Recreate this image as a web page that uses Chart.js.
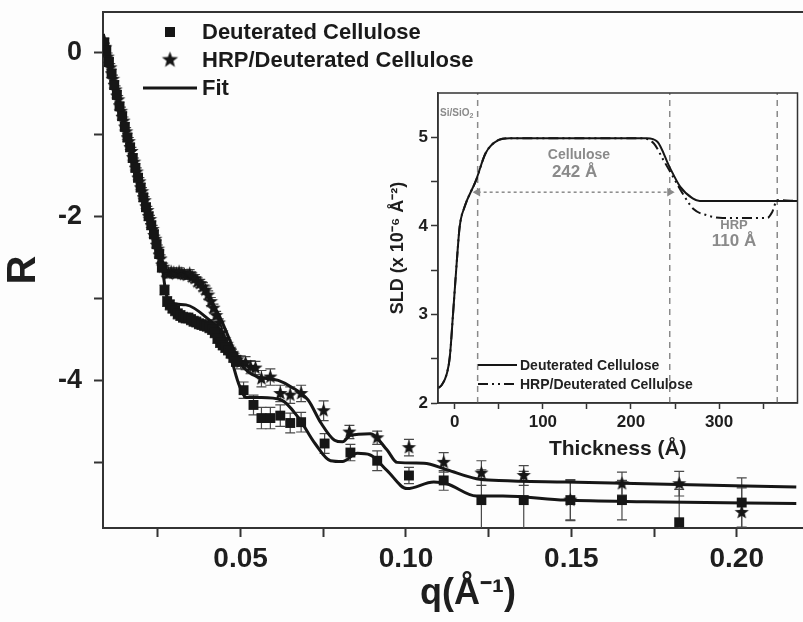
<!DOCTYPE html>
<html>
<head>
<meta charset="utf-8">
<script src="https://cdn.jsdelivr.net/npm/chart.js@4.4.1/dist/chart.umd.min.js"></script>
<style>
  html, body { margin: 0; padding: 0; background: #fdfdfd; overflow: hidden; width: 803px; height: 622px; }
  #main { position: absolute; left: 0; top: 0; }
  #inset { position: absolute; left: 380px; top: 85px; }
</style>
</head>
<body>
<canvas id="main" width="840" height="622"></canvas>
<canvas id="inset" width="423" height="385"></canvas>
<script>
// ---- reflectivity data ----
var dQ = [0.0088,0.0094,0.0102,0.0110,0.0118,0.0126,0.0134,0.0142,0.0150,0.0158,0.0166,0.0174,0.0182,0.0190,0.0198,0.0206,0.0214,0.0222,0.0230,0.0238,0.0246,0.0254,0.0262,0.0270,0.0278,0.0286,0.0294,0.0302,0.0310,0.0318,0.0326,0.0334,0.0342,0.0350,0.0358,0.0366,0.0374,0.0382,0.0390,0.0398,0.0406,0.0414,0.0422,0.0430,0.0438,0.0446,0.0454,0.0462,0.0470,0.0478,0.0486,
  0.0509,0.0539,0.0563,0.0590,0.0620,0.0650,0.0683,0.0754,0.0832,0.0913,0.1009,0.1114,0.1228,0.1356,0.1497,0.1653,0.1826,0.2015];
var dR = [0.12,0.02,-0.12,-0.26,-0.40,-0.52,-0.66,-0.78,-0.91,-1.04,-1.16,-1.29,-1.41,-1.53,-1.65,-1.77,-1.89,-2.00,-2.11,-2.22,-2.34,-2.46,-2.62,-2.90,-3.04,-3.08,-3.12,-3.15,-3.19,-3.21,-3.23,-3.24,-3.24,-3.26,-3.28,-3.29,-3.31,-3.32,-3.33,-3.34,-3.36,-3.38,-3.42,-3.49,-3.54,-3.57,-3.60,-3.63,-3.67,-3.72,-3.77,
  -4.12,-4.30,-4.46,-4.46,-4.43,-4.52,-4.51,-4.77,-4.88,-4.98,-5.16,-5.22,-5.46,-5.46,-5.46,-5.46,-5.73,-5.49];
var dErr = [0.05,0.05,0.05,0.05,0.05,0.05,0.05,0.05,0.05,0.05,0.05,0.05,0.05,0.05,0.05,0.05,0.05,0.05,0.05,0.05,0.05,0.05,0.06,0.06,0.06,0.06,0.06,0.06,0.06,0.06,0.06,0.06,0.06,0.06,0.06,0.06,0.06,0.06,0.06,0.06,0.06,0.06,0.06,0.06,0.06,0.06,0.06,0.06,0.06,0.06,0.06,
  0.10,0.12,0.13,0.13,0.13,0.12,0.12,0.12,0.10,0.12,0.10,0.12,0.37,0.35,0.25,0.24,0.40,0.30];

var hQ = [0.0090,0.0098,0.0106,0.0114,0.0122,0.0130,0.0138,0.0146,0.0154,0.0162,0.0170,0.0178,0.0186,0.0194,0.0202,0.0210,0.0218,0.0226,0.0234,0.0242,0.0250,0.0258,0.0266,0.0274,0.0282,0.0290,0.0298,0.0306,0.0314,0.0322,0.0330,0.0338,0.0346,0.0354,0.0362,0.0370,0.0378,0.0386,0.0394,0.0402,0.0410,0.0418,0.0426,0.0434,0.0442,0.0450,0.0458,0.0466,0.0474,0.0482,0.0490,
  0.0500,0.0515,0.0530,0.0545,0.0563,0.0590,0.0620,0.0650,0.0683,0.0751,0.0829,0.0913,0.1009,0.1114,0.1228,0.1356,0.1497,0.1653,0.1826,0.2015];
var hR = [0.06,-0.06,-0.19,-0.33,-0.46,-0.58,-0.72,-0.84,-0.97,-1.09,-1.21,-1.34,-1.46,-1.58,-1.70,-1.81,-1.93,-2.04,-2.16,-2.28,-2.40,-2.52,-2.62,-2.68,-2.70,-2.68,-2.69,-2.70,-2.68,-2.70,-2.71,-2.72,-2.70,-2.74,-2.76,-2.80,-2.82,-2.86,-2.90,-2.96,-3.04,-3.12,-3.21,-3.30,-3.42,-3.50,-3.56,-3.62,-3.67,-3.72,-3.75,
  -3.78,-3.79,-3.84,-3.85,-3.98,-3.96,-4.16,-4.18,-4.16,-4.37,-4.63,-4.70,-4.82,-5.00,-5.13,-5.16,-5.46,-5.26,-5.26,-5.61];
var hErr = [0.05,0.05,0.05,0.05,0.05,0.05,0.05,0.05,0.05,0.05,0.05,0.05,0.05,0.05,0.05,0.05,0.05,0.05,0.05,0.05,0.05,0.05,0.05,0.05,0.05,0.05,0.05,0.05,0.05,0.05,0.05,0.05,0.05,0.05,0.05,0.05,0.05,0.05,0.05,0.05,0.05,0.05,0.05,0.05,0.05,0.05,0.05,0.05,0.05,0.05,0.05,
  0.08,0.08,0.08,0.08,0.10,0.10,0.10,0.10,0.10,0.12,0.08,0.08,0.10,0.12,0.15,0.12,0.24,0.14,0.15,0.30];

var fitDQ = [0.0085,0.0096,0.0126,0.0156,0.0189,0.0222,0.0257,0.0263,0.0275,0.0293,0.0335,0.0395,0.0455,0.0494,0.0518,0.0563,0.0623,0.0674,0.0725,0.0772,0.0808,0.0853,0.0892,0.0943,0.1003,0.1084,0.1123,0.1213,0.1293,0.1482,0.1722,0.2180];
var fitDR = [0.22,0.00,-0.50,-1.00,-1.50,-2.00,-2.50,-2.62,-2.95,-3.06,-3.08,-3.23,-3.51,-4.04,-4.21,-4.21,-4.24,-4.45,-4.77,-4.98,-4.99,-4.89,-4.91,-5.10,-5.32,-5.24,-5.26,-5.41,-5.41,-5.46,-5.48,-5.50];
var fitHQ = [0.0085,0.0096,0.0126,0.0156,0.0189,0.0222,0.0257,0.0270,0.0300,0.0344,0.0374,0.0398,0.0434,0.0455,0.0494,0.0524,0.0554,0.0614,0.0653,0.0704,0.0743,0.0784,0.0808,0.0832,0.0892,0.0943,0.0973,0.1054,0.1123,0.1213,0.1281,0.1482,0.1722,0.2180];
var fitHR = [0.22,0.00,-0.50,-1.00,-1.50,-2.00,-2.50,-2.62,-2.73,-2.72,-2.80,-2.96,-3.20,-3.39,-3.76,-3.90,-3.96,-4.00,-4.08,-4.24,-4.52,-4.73,-4.75,-4.67,-4.65,-4.85,-5.00,-5.01,-5.09,-5.20,-5.22,-5.24,-5.26,-5.30];

var xTickVals = [0.025,0.05,0.075,0.10,0.125,0.15,0.175,0.20,0.225];
var xTickLabels = ['','0.05','','0.10','','0.15','','0.20',''];
var yTickVals = [-5,-4,-3,-2,-1,0];
var yTickLabels = ['','-4','','-2','','0'];

// ---- SLD profile (inset) ----
var thickD = [-19,-15,-9,-5.6,-1.9,1.9,5.6,11,24,35,50,62,218,230,244,256,270,278,389];
var sldD = [2.17,2.20,2.33,2.52,3.01,3.54,3.99,4.21,4.51,4.82,4.97,4.99,4.99,4.95,4.66,4.44,4.31,4.28,4.28];
var thickH = [-19,-15,-9,-5.6,-1.9,1.9,5.6,11,24,35,50,62,212,226,237,248,259,271,286,304,355,360,366,389];
var sldH = [2.17,2.20,2.33,2.52,3.01,3.54,3.99,4.21,4.51,4.82,4.97,4.99,4.99,4.93,4.74,4.55,4.36,4.19,4.12,4.09,4.09,4.15,4.29,4.28];
var layerEdges = [26, 244, 366];
var insetXTicks = [0,50,100,150,200,250,300,350];
var insetXLabels = ['0','','100','','200','','300',''];
var insetYTicks = [2,2.5,3,3.5,4,4.5,5];
var insetYLabels = ['2','','3','','4','','5'];

var FONT = '"Liberation Sans", Arial, sans-serif';
var INK = '#161616';
var AXIS = '#333';

function pts(xs, ys) {
  var out = [];
  for (var i = 0; i < Math.min(xs.length, ys.length); i++) out.push({x: xs[i], y: ys[i]});
  return out;
}

function makeStar(r) {
  var c = document.createElement('canvas');
  var s = Math.ceil(r * 2 + 2);
  c.width = s; c.height = s;
  var g = c.getContext('2d');
  g.fillStyle = INK;
  g.beginPath();
  for (var i = 0; i < 10; i++) {
    var a = -Math.PI / 2 + i * Math.PI / 5;
    var rr = i % 2 === 0 ? r : r * 0.42;
    g.lineTo(s / 2 + rr * Math.cos(a), s / 2 + rr * Math.sin(a));
  }
  g.closePath();
  g.fill();
  return c;
}
var star = makeStar(7.5);
var starBig = makeStar(8.5);

// no extra room for edge labels, the chart area is placed by hand
function noPad(s) { s.paddingTop = 0; s.paddingBottom = 0; s.paddingLeft = 0; s.paddingRight = 0; }

// error bars drawn through the chart's scales
var errorBars = {
  id: 'errorBars',
  beforeDatasetsDraw: function(chart) {
    var ctx = chart.ctx, x = chart.scales.x, y = chart.scales.y, a = chart.chartArea;
    ctx.save();
    ctx.beginPath(); ctx.rect(a.left, a.top, a.right - a.left, a.bottom - a.top); ctx.clip();
    ctx.strokeStyle = '#4a4a4a';
    ctx.lineWidth = 1.2;
    chart.data.datasets.forEach(function(ds) {
      if (!ds.errors) return;
      ds.data.forEach(function(p, i) {
        var e = ds.errors[i];
        if (!e) return;
        var px = x.getPixelForValue(p.x);
        var y1 = y.getPixelForValue(p.y - e), y2 = y.getPixelForValue(p.y + e);
        ctx.beginPath();
        ctx.moveTo(px, y1); ctx.lineTo(px, y2);
        ctx.moveTo(px - 5, y1); ctx.lineTo(px + 5, y1);
        ctx.moveTo(px - 5, y2); ctx.lineTo(px + 5, y2);
        ctx.stroke();
      });
    });
    ctx.restore();
  }
};

var mainDeco = {
  id: 'mainDeco',
  afterDraw: function(chart) {
    var ctx = chart.ctx, a = chart.chartArea;
    ctx.save();
    // top frame line
    ctx.strokeStyle = AXIS; ctx.lineWidth = 2;
    ctx.beginPath(); ctx.moveTo(a.left, a.top); ctx.lineTo(a.right, a.top); ctx.stroke();
    // legend
    var lx = a.left + 67, ty = a.top + 20;
    ctx.fillStyle = INK;
    ctx.fillRect(lx - 5, ty - 5, 10, 10);
    ctx.drawImage(starBig, lx - starBig.width / 2, ty + 28 - starBig.height / 2);
    ctx.strokeStyle = INK; ctx.lineWidth = 3;
    ctx.beginPath(); ctx.moveTo(a.left + 40, ty + 56); ctx.lineTo(a.left + 94, ty + 56); ctx.stroke();
    ctx.font = 'bold 22px ' + FONT;
    ctx.textBaseline = 'middle';
    ctx.fillStyle = '#1a1a1a';
    ctx.fillText('Deuterated Cellulose', a.left + 99, ty + 1);
    ctx.fillText('HRP/Deuterated Cellulose', a.left + 99, ty + 29);
    ctx.fillText('Fit', a.left + 99, ty + 57);
    ctx.restore();
  }
};

new Chart(document.getElementById('main'), {
  type: 'scatter',
  data: {
    datasets: [
      { label: 'Deuterated Cellulose', data: pts(dQ, dR), errors: dErr, pointStyle: 'rect', pointRadius: 7, backgroundColor: INK, borderColor: INK, borderWidth: 0 },
      { label: 'HRP/Deuterated Cellulose', data: pts(hQ, hR), errors: hErr, pointStyle: star, backgroundColor: INK, borderColor: INK },
      { label: 'Fit', data: pts(fitDQ, fitDR), showLine: true, pointRadius: 0, borderColor: INK, borderWidth: 3, cubicInterpolationMode: 'monotone' },
      { label: 'Fit HRP', data: pts(fitHQ, fitHR), showLine: true, pointRadius: 0, borderColor: INK, borderWidth: 3, cubicInterpolationMode: 'monotone' }
    ]
  },
  options: {
    responsive: false,
    animation: false,
    layout: { padding: { left: 0, right: 0, top: 12, bottom: 0 } },
    plugins: { legend: { display: false }, tooltip: { enabled: false } },
    scales: {
      x: {
        type: 'linear', min: 0.0084, max: 0.2291,
        afterBuildTicks: function(s) { s.ticks = xTickVals.map(function(v) { return {value: v}; }); },
        afterFit: function(s) { s.height = 94; noPad(s); },
        ticks: { callback: function(v, i) { return xTickLabels[i]; }, autoSkip: false, maxRotation: 0, padding: 5, color: '#1e1e1e', font: { family: FONT, size: 28, weight: 'bold' } },
        grid: { drawOnChartArea: false, tickLength: 9, tickWidth: 2, tickColor: AXIS },
        border: { color: AXIS, width: 2 },
        title: { display: true, text: 'q(Å⁻¹)', color: '#1e1e1e', font: { family: FONT, size: 36, weight: 'bold' }, padding: { top: 0, bottom: 6 } }
      },
      y: {
        type: 'linear', min: -5.8, max: 0.49,
        afterBuildTicks: function(s) { s.ticks = yTickVals.map(function(v) { return {value: v}; }); },
        afterFit: function(s) { s.width = 103; noPad(s); },
        ticks: { callback: function(v, i) { return yTickLabels[i]; }, autoSkip: false, padding: 12, color: '#1e1e1e', font: { family: FONT, size: 27, weight: 'bold' } },
        grid: { drawOnChartArea: false, tickLength: 9, tickWidth: 2, tickColor: AXIS },
        border: { color: AXIS, width: 2 },
        title: { display: true, text: 'R', color: '#1e1e1e', font: { family: FONT, size: 40, weight: 'bold' }, padding: { top: 0, bottom: 0 } }
      }
    }
  },
  plugins: [errorBars, mainDeco]
});

// ---- inset ----
var GRAY = '#8a8a8a';
var insetDeco = {
  id: 'insetDeco',
  afterDraw: function(chart) {
    var ctx = chart.ctx, a = chart.chartArea, x = chart.scales.x, y = chart.scales.y;
    ctx.save();
    ctx.strokeStyle = AXIS; ctx.lineWidth = 1.5;
    ctx.strokeRect(a.left, a.top, a.right - a.left, a.bottom - a.top);
    ctx.textAlign = 'center'; ctx.textBaseline = 'middle';
    ctx.fillStyle = GRAY;
    ctx.font = 'bold 14px ' + FONT;
    ctx.fillText('Cellulose', x.getPixelForValue(141), y.getPixelForValue(4.80));
    ctx.font = 'bold 17px ' + FONT;
    ctx.fillText('242 Å', x.getPixelForValue(136), y.getPixelForValue(4.61));
    ctx.font = 'bold 13px ' + FONT;
    ctx.fillText('HRP', x.getPixelForValue(317), y.getPixelForValue(4.0));
    ctx.font = 'bold 17px ' + FONT;
    ctx.fillText('110 Å', x.getPixelForValue(317), y.getPixelForValue(3.83));
    // Si/SiO2
    ctx.textAlign = 'left';
    ctx.font = 'bold 10px ' + FONT;
    var sx = a.left + 2, sy = y.getPixelForValue(5.27);
    ctx.fillText('Si/SiO', sx, sy);
    var w = ctx.measureText('Si/SiO').width;
    ctx.font = 'bold 7px ' + FONT;
    ctx.fillText('2', sx + w, sy + 3);
    // legend
    var lx = a.left + 40, ly = a.bottom - 38;
    ctx.strokeStyle = INK; ctx.lineWidth = 2;
    ctx.beginPath(); ctx.moveTo(lx, ly); ctx.lineTo(lx + 39, ly); ctx.stroke();
    ctx.setLineDash([10, 4, 2, 4, 2, 4]);
    ctx.beginPath(); ctx.moveTo(lx, ly + 19); ctx.lineTo(lx + 39, ly + 19); ctx.stroke();
    ctx.setLineDash([]);
    ctx.fillStyle = '#222';
    ctx.font = 'bold 14px ' + FONT;
    ctx.fillText('Deuterated Cellulose', lx + 42, ly + 1);
    ctx.fillText('HRP/Deuterated Cellulose', lx + 42, ly + 20);
    ctx.restore();
  }
};

var edgeSets = layerEdges.map(function(e) {
  return { data: [{x: e, y: 2}, {x: e, y: 5.5}], showLine: true, pointRadius: 0, borderColor: GRAY, borderWidth: 1.5, borderDash: [6, 5] };
});

new Chart(document.getElementById('inset'), {
  type: 'scatter',
  data: {
    datasets: [
      { label: 'Deuterated Cellulose', data: pts(thickD, sldD), showLine: true, pointRadius: 0, borderColor: INK, borderWidth: 2, cubicInterpolationMode: 'monotone' },
      { label: 'HRP/Deuterated Cellulose', data: pts(thickH, sldH), showLine: true, pointRadius: 0, borderColor: INK, borderWidth: 2, borderDash: [10, 4, 2, 4, 2, 4], cubicInterpolationMode: 'monotone' },
      { label: 'Cellulose thickness', data: [{x: layerEdges[0], y: 4.38}, {x: layerEdges[1], y: 4.38}], showLine: true, borderColor: GRAY, backgroundColor: GRAY, borderWidth: 1.5, borderDash: [3, 3], pointStyle: 'triangle', pointRadius: 3.5, rotation: [270, 90] }
    ].concat(edgeSets)
  },
  options: {
    responsive: false,
    animation: false,
    layout: { padding: { left: 0, right: 2, top: 8, bottom: 0 } },
    plugins: { legend: { display: false }, tooltip: { enabled: false } },
    scales: {
      x: {
        type: 'linear', min: -19, max: 389,
        afterBuildTicks: function(s) { s.ticks = insetXTicks.map(function(v) { return {value: v}; }); },
        afterFit: function(s) { s.height = 67; noPad(s); },
        ticks: { callback: function(v, i) { return insetXLabels[i]; }, autoSkip: false, maxRotation: 0, padding: 3, color: '#1e1e1e', font: { family: FONT, size: 17, weight: 'bold' } },
        grid: { drawOnChartArea: false, tickLength: 6, tickWidth: 1.5, tickColor: AXIS },
        border: { color: AXIS, width: 1.5 },
        title: { display: true, text: 'Thickness (Å)', color: '#1e1e1e', font: { family: FONT, size: 21, weight: 'bold' }, padding: { top: 0, bottom: 8 } }
      },
      y: {
        type: 'linear', min: 2, max: 5.5,
        afterBuildTicks: function(s) { s.ticks = insetYTicks.map(function(v) { return {value: v}; }); },
        afterFit: function(s) { s.width = 58; noPad(s); },
        ticks: { callback: function(v, i) { return insetYLabels[i]; }, autoSkip: false, padding: 3, color: '#1e1e1e', font: { family: FONT, size: 17, weight: 'bold' } },
        grid: { drawOnChartArea: false, tickLength: 7, tickWidth: 1.5, tickColor: AXIS },
        border: { color: AXIS, width: 1.5 },
        title: { display: true, text: 'SLD (x 10⁻⁶ Å⁻²)', color: '#1e1e1e', font: { family: FONT, size: 18, weight: 'bold' }, padding: { top: 7, bottom: 0 } }
      }
    }
  },
  plugins: [insetDeco]
});
</script>
</body>
</html>
